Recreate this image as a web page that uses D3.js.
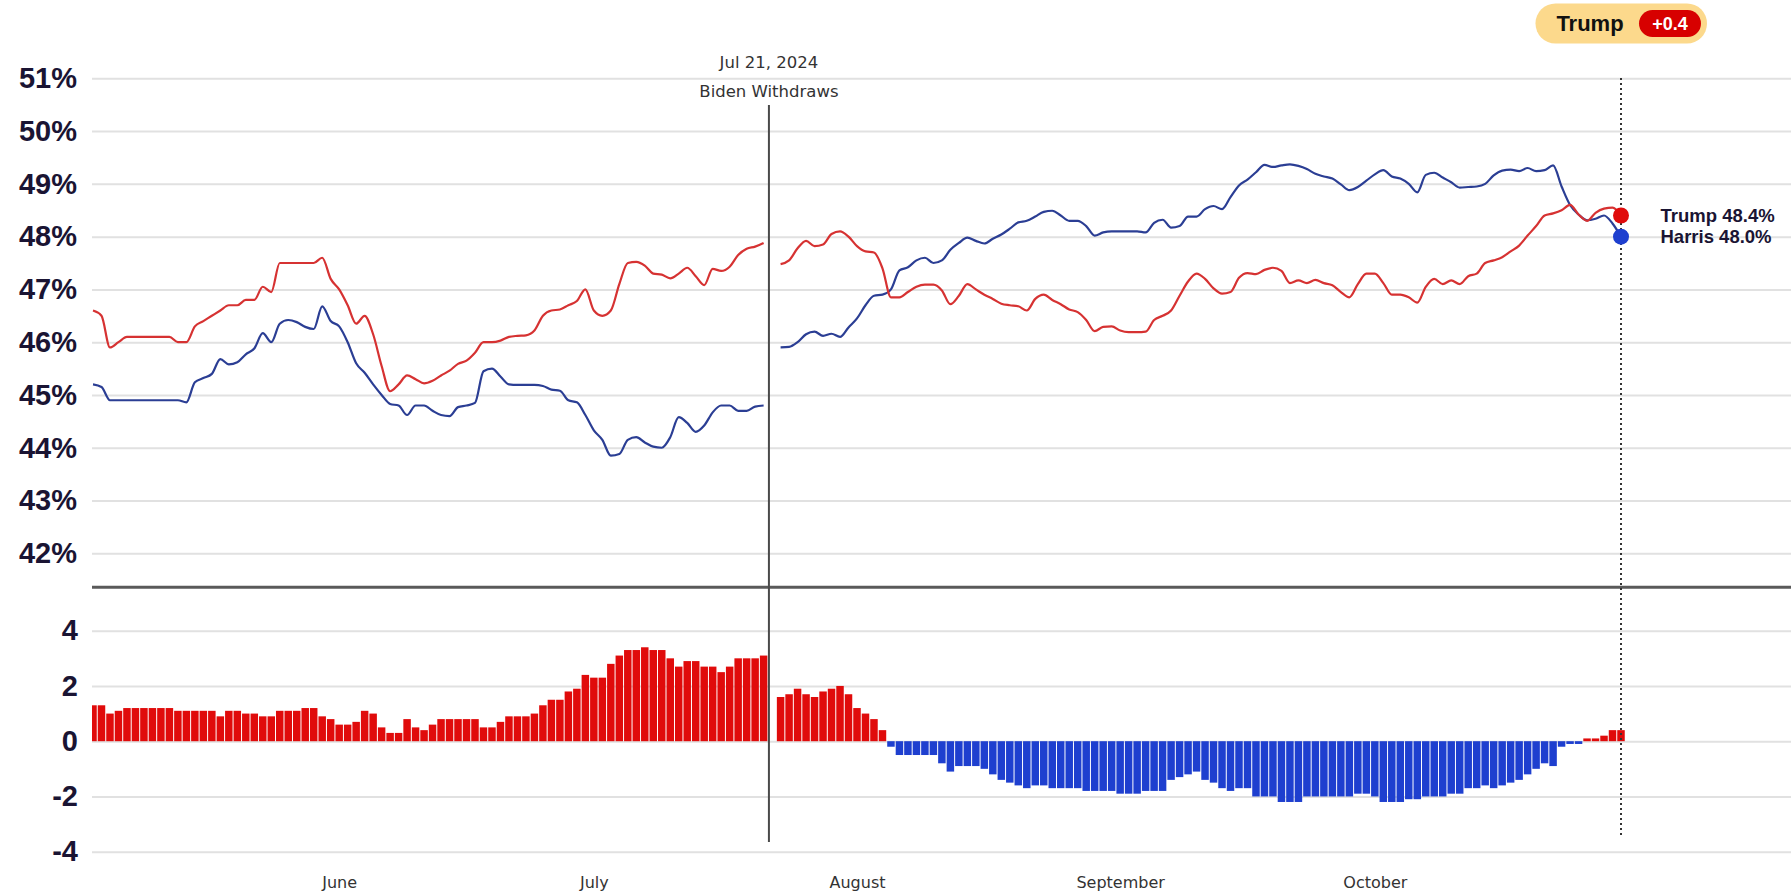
<!DOCTYPE html>
<html>
<head>
<meta charset="utf-8">
<script src="https://cdn.jsdelivr.net/npm/d3@7"></script>
<style>
  body { margin: 0; background: #fff; }
  svg { display: block; font-family: "Liberation Sans", Arial, sans-serif; }
</style>
</head>
<body>
<div id="chart"></div>
<script>
// ---- data ----
var startDay = "2024-05-03";
var endDay = "2024-10-30";
var eventDay = "2024-07-21T15:00";
var eventLabels = ["Jul 21, 2024", "Biden Withdraws"];
var monthTicks = ["2024-06-01", "2024-07-01", "2024-08-01", "2024-09-01", "2024-10-01"];
var pctTicks = [42, 43, 44, 45, 46, 47, 48, 49, 50, 51];
var spreadTicks = [-4, -2, 0, 2, 4];
var names = ["Trump", "Harris"];
var leader = "Trump";
var leadText = "+0.4";

// Trump average, one value per day (null = Jul 22, no data)
var trump = [
  46.6, 46.5, 45.9, 46.0, 46.1, 46.1, 46.1, 46.1, 46.1, 46.1,
  46.0, 46.0, 46.3, 46.4, 46.5, 46.6, 46.7, 46.7, 46.8, 46.8,
  47.05, 46.95, 47.5, 47.5, 47.5, 47.5, 47.5, 47.6, 47.2, 47.0,
  46.7, 46.35, 46.5, 46.15, 45.55, 45.07, 45.2, 45.37, 45.3, 45.22,
  45.27, 45.37, 45.46, 45.59, 45.65, 45.8, 46.0, 46.0, 46.03, 46.1,
  46.12, 46.13, 46.22, 46.5, 46.6, 46.62, 46.7, 46.78, 47.0, 46.6,
  46.5, 46.6, 47.1, 47.5, 47.52, 47.45, 47.3, 47.28, 47.21, 47.3,
  47.41, 47.25, 47.08, 47.39, 47.35, 47.43, 47.65, 47.77, 47.81, 47.88,
  null, 47.48, 47.55, 47.78, 47.92, 47.82, 47.85, 48.05, 48.1, 48.0,
  47.82, 47.72, 47.7, 47.4, 46.85, 46.85, 46.95, 47.05, 47.09, 47.09,
  46.98, 46.72, 46.88, 47.1, 47.0, 46.9, 46.82, 46.73, 46.7, 46.68,
  46.6, 46.82, 46.9, 46.8, 46.72, 46.62, 46.57, 46.42, 46.21, 46.29,
  46.3, 46.22, 46.19, 46.19, 46.2, 46.42, 46.5, 46.6, 46.88, 47.15,
  47.3, 47.2, 47.02, 46.92, 46.95, 47.22, 47.31, 47.29, 47.37, 47.41,
  47.35, 47.12, 47.17, 47.12, 47.18, 47.12, 47.08, 46.95, 46.85, 47.1,
  47.3, 47.3, 47.12, 46.9, 46.9, 46.85, 46.75, 47.05, 47.2, 47.1,
  47.17, 47.1, 47.25, 47.3, 47.5, 47.55, 47.61, 47.72, 47.83, 48.02,
  48.2, 48.4, 48.44, 48.5, 48.6, 48.42, 48.3, 48.45, 48.53, 48.55,
  48.4
];

// Democratic average (Biden until Jul 21, Harris after)
var dem = [
  45.2, 45.15, 44.9, 44.9, 44.9, 44.9, 44.9, 44.9, 44.9, 44.9,
  44.9, 44.86, 45.24, 45.32, 45.4, 45.68, 45.58, 45.62, 45.77, 45.88,
  46.17, 46.0, 46.35, 46.42, 46.38, 46.29, 46.25, 46.68, 46.4, 46.3,
  46.0, 45.6, 45.42, 45.2, 45.0, 44.83, 44.8, 44.62, 44.8, 44.8,
  44.7, 44.62, 44.6, 44.77, 44.8, 44.85, 45.45, 45.5, 45.35, 45.2,
  45.19, 45.19, 45.19, 45.17, 45.1, 45.08, 44.9, 44.86, 44.62, 44.33,
  44.15, 43.85, 43.88, 44.15, 44.2, 44.1, 44.02, 44.0, 44.2, 44.58,
  44.47, 44.3, 44.42, 44.67, 44.8, 44.8, 44.7, 44.7, 44.78, 44.8,
  null, 45.9, 45.91, 46.0, 46.15, 46.2, 46.12, 46.16, 46.1, 46.28,
  46.45, 46.7, 46.88, 46.9, 47.0, 47.36, 47.42, 47.55, 47.6, 47.5,
  47.55, 47.75, 47.88, 47.98, 47.92, 47.87, 47.96, 48.04, 48.15, 48.27,
  48.3, 48.38, 48.47, 48.49, 48.4, 48.3, 48.3, 48.2, 48.02, 48.08,
  48.1, 48.1, 48.1, 48.1, 48.08, 48.26, 48.32, 48.17, 48.2, 48.38,
  48.38, 48.52, 48.58, 48.52, 48.75, 48.97, 49.08, 49.22, 49.36, 49.32,
  49.35, 49.37, 49.34, 49.28, 49.19, 49.14, 49.1, 48.99, 48.88, 48.94,
  49.06, 49.18, 49.26, 49.14, 49.1, 49.0, 48.84, 49.17, 49.21, 49.12,
  49.03, 48.93, 48.94, 48.95, 49.0, 49.16, 49.25, 49.27, 49.24, 49.3,
  49.24, 49.26, 49.35, 48.95, 48.6, 48.42, 48.31, 48.34, 48.4, 48.25,
  48.0
];

// daily spread bars (Trump minus Democrat)
var spread = [
  1.3, 1.3, 1.0, 1.1, 1.2, 1.2, 1.2, 1.2, 1.2, 1.2,
  1.1, 1.1, 1.1, 1.1, 1.1, 0.9, 1.1, 1.1, 1.0, 1.0,
  0.9, 0.9, 1.1, 1.1, 1.1, 1.2, 1.2, 0.9, 0.8, 0.6,
  0.6, 0.7, 1.1, 1.0, 0.5, 0.3, 0.3, 0.8, 0.5, 0.4,
  0.6, 0.8, 0.8, 0.8, 0.8, 0.8, 0.5, 0.5, 0.7, 0.9,
  0.9, 0.9, 1.0, 1.3, 1.5, 1.5, 1.8, 1.9, 2.4, 2.3,
  2.3, 2.8, 3.1, 3.3, 3.3, 3.4, 3.3, 3.3, 3.0, 2.7,
  2.9, 2.9, 2.7, 2.7, 2.5, 2.7, 3.0, 3.0, 3.0, 3.1,
  null, 1.6, 1.7, 1.9, 1.7, 1.6, 1.8, 1.9, 2.0, 1.7,
  1.2, 1.0, 0.8, 0.4, -0.2, -0.5, -0.5, -0.5, -0.5, -0.5,
  -0.8, -1.1, -0.9, -0.9, -0.9, -1.0, -1.2, -1.4, -1.5, -1.6,
  -1.7, -1.6, -1.6, -1.7, -1.7, -1.7, -1.7, -1.8, -1.8, -1.8,
  -1.8, -1.9, -1.9, -1.9, -1.8, -1.8, -1.8, -1.4, -1.3, -1.2,
  -1.1, -1.4, -1.5, -1.7, -1.8, -1.7, -1.7, -2.0, -2.0, -2.0,
  -2.2, -2.2, -2.2, -2.0, -2.0, -2.0, -2.0, -2.0, -2.0, -1.9,
  -1.9, -2.0, -2.2, -2.2, -2.2, -2.1, -2.1, -2.0, -2.0, -2.0,
  -1.9, -1.9, -1.7, -1.7, -1.6, -1.7, -1.6, -1.5, -1.4, -1.2,
  -1.0, -0.8, -0.9, -0.2, -0.1, -0.1, 0.1, 0.1, 0.2, 0.4,
  0.4
];

// ---- canvas ----
var svgWidth = 1791;
var svgHeight = 895;
var plotLeft = 92;

var red = "#e00b0b", blue = "#1e3fcf";
var redLine = "#d63232", blueLine = "#2b3e94";
var ink = "#1a1433";

var svg = d3.select("#chart")
  .append("svg")
  .attr("width", svgWidth)
  .attr("height", svgHeight);

var parseDay = d3.timeParse("%Y-%m-%d");
var firstDate = parseDay(startDay);
var lastDate = parseDay(endDay);
var days = d3.timeDay.range(firstDate, d3.timeDay.offset(lastDate, 1));

var x = d3.scaleTime().domain([firstDate, lastDate]).range([93, 1621]);
var yTop = d3.scaleLinear().domain([42, 51]).range([553.3, 78.3]);
var yBot = d3.scaleLinear().domain([-4, 4]).range([851.7, 630.7]);
var step = x(days[1]) - x(days[0]);

// gridlines
function grid(scale, ticks) {
  var g = svg.append("g")
    .attr("transform", "translate(" + plotLeft + ",0)")
    .call(d3.axisRight(scale).tickValues(ticks).tickSize(svgWidth - plotLeft).tickFormat(""));
  g.select(".domain").remove();
  g.selectAll("line").attr("stroke", "#e1e1e1").attr("stroke-width", 2);
}
grid(yTop, pctTicks);
grid(yBot, spreadTicks);

// y labels
function yLabels(scale, ticks, fmt, pad) {
  var g = svg.append("g")
    .attr("transform", "translate(" + plotLeft + ",0)")
    .call(d3.axisLeft(scale).tickValues(ticks).tickSize(0).tickPadding(pad).tickFormat(fmt));
  g.select(".domain").remove();
  g.selectAll("text")
    .attr("font-family", "'Liberation Sans', Arial, sans-serif")
    .attr("font-size", 29)
    .attr("font-weight", "bold")
    .attr("fill", ink);
}
yLabels(yTop, pctTicks, function(d) { return d + "%"; }, 15);
yLabels(yBot, spreadTicks, function(d) { return d; }, 14);

// panel separator
svg.append("line")
  .attr("x1", plotLeft).attr("x2", svgWidth)
  .attr("y1", 587.3).attr("y2", 587.3)
  .attr("stroke", "#5a5a5a").attr("stroke-width", 3);

// spread bars
svg.append("clipPath").attr("id", "barclip")
  .append("rect").attr("x", plotLeft).attr("y", 600).attr("width", svgWidth - plotLeft).attr("height", 280);

var barData = days.map(function(d, i) { return { date: d, v: spread[i] }; })
  .filter(function(d) { return d.v != null; });

svg.append("g").attr("clip-path", "url(#barclip)")
  .selectAll("rect")
  .data(barData)
  .enter().append("rect")
  .attr("x", function(d) { return x(d.date) - step / 2 + 0.5; })
  .attr("width", step - 1)
  .attr("y", function(d) { return yBot(Math.max(0, d.v)); })
  .attr("height", function(d) { return Math.abs(yBot(d.v) - yBot(0)); })
  .attr("fill", function(d) { return d.v >= 0 ? red : blue; });

// candidate lines
function series(arr) {
  return days.map(function(d, i) { return { date: d, v: arr[i] }; });
}
var line = d3.line()
  .defined(function(d) { return d.v != null; })
  .x(function(d) { return x(d.date); })
  .y(function(d) { return yTop(d.v); })
  .curve(d3.curveMonotoneX);

svg.append("path").datum(series(dem))
  .attr("d", line).attr("fill", "none")
  .attr("stroke", blueLine).attr("stroke-width", 2.2);
svg.append("path").datum(series(trump))
  .attr("d", line).attr("fill", "none")
  .attr("stroke", redLine).attr("stroke-width", 2.2);

// event marker
var eventDate = d3.isoParse(eventDay);
var ex = x(eventDate);
svg.append("line")
  .attr("x1", ex).attr("x2", ex).attr("y1", 105).attr("y2", 842)
  .attr("stroke", "#4a4a4a").attr("stroke-width", 2);
svg.selectAll(".evt").data(eventLabels).enter().append("text")
  .attr("x", ex)
  .attr("y", function(d, i) { return 67.5 + i * 29; })
  .attr("text-anchor", "middle")
  .attr("font-family", "'DejaVu Sans', sans-serif")
  .attr("font-size", 16.5)
  .attr("fill", "#333")
  .text(function(d) { return d; });

// latest-day marker
var lx = x(lastDate);
svg.append("line")
  .attr("x1", lx).attr("x2", lx).attr("y1", 78).attr("y2", 838)
  .attr("stroke", "#333").attr("stroke-width", 2).attr("stroke-dasharray", "2,3");

var lastVals = [trump[trump.length - 1], dem[dem.length - 1]];
var dotColors = [red, blue];
svg.selectAll(".dot").data(lastVals).enter().append("circle")
  .attr("cx", lx)
  .attr("cy", function(d) { return yTop(d); })
  .attr("r", 8)
  .attr("fill", function(d, i) { return dotColors[i]; });
svg.selectAll(".endlab").data(lastVals).enter().append("text")
  .attr("x", 1660.5)
  .attr("y", function(d) { return yTop(d); })
  .attr("dy", "0.36em")
  .attr("font-size", 18.5)
  .attr("font-weight", "bold")
  .attr("fill", ink)
  .text(function(d, i) { return names[i] + " " + d3.format(".1f")(d) + "%"; });

// month axis
var monthAxis = svg.append("g")
  .attr("transform", "translate(0,874)")
  .call(d3.axisBottom(x).tickValues(monthTicks.map(parseDay)).tickSize(0).tickFormat(d3.timeFormat("%B")));
monthAxis.select(".domain").remove();
monthAxis.selectAll("text")
  .attr("font-family", "'DejaVu Sans', sans-serif")
  .attr("font-size", 16)
  .attr("fill", "#333");

// leader badge
var badge = svg.append("g");
badge.append("rect").attr("x", 1535.5).attr("y", 3.5).attr("width", 171.5).attr("height", 40)
  .attr("rx", 20).attr("fill", "#fcd98c");
badge.append("text").attr("x", 1590).attr("y", 23.5).attr("dy", "0.36em")
  .attr("text-anchor", "middle").attr("font-size", 22).attr("font-weight", "bold")
  .attr("fill", "#111").text(leader);
badge.append("rect").attr("x", 1639).attr("y", 10).attr("width", 62).attr("height", 27)
  .attr("rx", 13.5).attr("fill", "#d70000");
badge.append("text").attr("x", 1670).attr("y", 23.5).attr("dy", "0.36em")
  .attr("text-anchor", "middle").attr("font-size", 18).attr("font-weight", "bold")
  .attr("fill", "#fff").text(leadText);
</script>
</body>
</html>
